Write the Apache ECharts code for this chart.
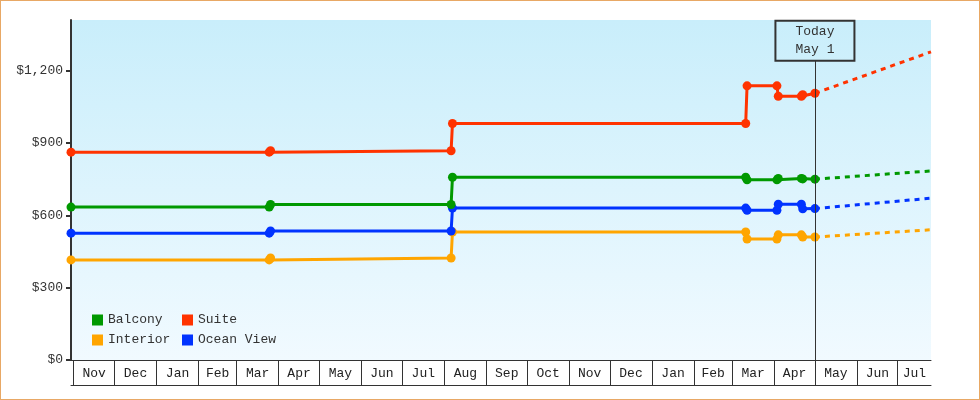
<!DOCTYPE html>
<html>
<head>
<meta charset="utf-8">
<script src="https://cdn.jsdelivr.net/npm/echarts@6/dist/echarts.min.js"></script>
<style>
  html, body { margin: 0; padding: 0; background: #fff; }
  #chart { position: absolute; left: 0; top: 0; width: 980px; height: 400px; }
  #frame { position: absolute; left: 0; top: 0; width: 980px; height: 400px; box-sizing: border-box; border: 1px solid #e8a865; pointer-events: none; }
</style>
</head>
<body>
<div id="chart"></div>
<div id="frame"></div>
<script>
// ---- data ----
const axisStart = '2024-10-30';
const axisEnd = '2026-07-25 12:00';
const monthStarts = ['2024-11-01','2024-12-01','2025-01-01','2025-02-01','2025-03-01','2025-04-01','2025-05-01','2025-06-01','2025-07-01','2025-08-01','2025-09-01','2025-10-01','2025-11-01','2025-12-01','2026-01-01','2026-02-01','2026-03-01','2026-04-01','2026-05-01','2026-06-01','2026-07-01'];
const monthLabels = ['Nov','Dec','Jan','Feb','Mar','Apr','May','Jun','Jul','Aug','Sep','Oct','Nov','Dec','Jan','Feb','Mar','Apr','May','Jun','Jul'];
const yTicks = [0, 300, 600, 900, 1200];

const priceDates = ['2024-10-30','2025-03-25','2025-03-26','2025-08-06','2025-08-07','2026-03-11','2026-03-12','2026-04-03','2026-04-04','2026-04-21','2026-04-22','2026-05-01'];
const balcony   = [634, 634, 645, 645, 758, 758, 747, 747, 753, 753, 751, 750];
const suite     = [862, 862, 868, 868, 981, 981, 1137, 1137, 1094, 1094, 1100, 1106];
const interior  = [415, 415, 423, 423, 531, 531, 502, 502, 519, 519, 510, 510];
const oceanView = [526, 526, 535, 535, 630, 630, 621, 621, 646, 646, 627, 628];

const forecastDates = ['2026-05-01', '2026-07-25 12:00'];
const balconyForecast   = [750, 784];
const suiteForecast     = [1106, 1278];
const interiorForecast  = [510, 540];
const oceanViewForecast = [628, 671];

const todayDate = '2026-05-01';
const todayText = ['Today', 'May 1'];
const todayBoxBase = 1241;

// ---- chart ----
const FONT = 'Liberation Mono';
const TXT = '#333';
const P = s => echarts.time.parse(s).getTime();
const pairs = (d, v) => d.map((x, i) => [P(x), v[i]]);

const tickTs = monthStarts.map(P);
const startTs = P(axisStart);
const endTs = P(axisEnd);
const labelTs = tickTs.map((t, i) => (t + (i + 1 < tickTs.length ? tickTs[i + 1] : endTs)) / 2);
const labelMap = {};
labelTs.forEach((t, i) => { labelMap[t] = monthLabels[i]; });

const colors = { Balcony: '#009900', Suite: '#ff3300', Interior: '#ffa500', 'Ocean View': '#0033ff' };

function solid(name, vals) {
  return {
    name, type: 'line', data: pairs(priceDates, vals),
    symbol: 'circle', symbolSize: 9, showSymbol: true,
    lineStyle: { width: 3, color: colors[name] }, itemStyle: { color: colors[name] },
    silent: true, z: 3
  };
}
function dashed(name, vals) {
  return {
    name: name + ' forecast', type: 'line', data: pairs(forecastDates, vals),
    symbol: 'none', lineStyle: { width: 3, type: [5, 5], color: colors[name] },
    itemStyle: { color: colors[name] }, silent: true, z: 2
  };
}

const suiteSeries = solid('Suite', suite);
suiteSeries.markLine = {
  silent: true, symbol: 'none', animation: false,
  lineStyle: { color: TXT, width: 1, type: 'solid' },
  label: {
    show: true, position: 'end', distance: 0,
    formatter: todayText.join('\n'),
    color: TXT, fontFamily: FONT, fontSize: 13, lineHeight: 18,
    borderColor: TXT, borderWidth: 1, padding: [2, 20, 2, 20], backgroundColor: 'transparent'
  },
  emphasis: { disabled: true },
  data: [[{ xAxis: P(todayDate), yAxis: 0 }, { xAxis: P(todayDate), yAxis: todayBoxBase }]]
};

const legendCommon = {
  orient: 'vertical', icon: 'rect', itemWidth: 11, itemHeight: 11, itemGap: 6, padding: 0,
  textStyle: { color: TXT, fontFamily: FONT, fontSize: 13, lineHeight: 14 },
  selectedMode: false
};

const chart = echarts.init(document.getElementById('chart'), null, { renderer: 'canvas' });
chart.setOption({
  animation: false,
  grid: {
    left: 71, right: 49, top: 20, bottom: 40, show: true, borderWidth: 0,
    backgroundColor: new echarts.graphic.LinearGradient(0, 0, 0, 1, [
      { offset: 0, color: '#c9eefb' }, { offset: 1, color: '#f1faff' }
    ])
  },
  legend: [
    Object.assign({}, legendCommon, { left: 92, top: 313, data: ['Balcony', 'Interior'] }),
    Object.assign({}, legendCommon, { left: 182, top: 313, data: ['Suite', 'Ocean View'] })
  ],
  xAxis: [{
    type: 'value', min: startTs, max: endTs, scale: true,
    axisLine: { show: true, onZero: false, lineStyle: { color: TXT, width: 1 } },
    axisTick: { show: true, length: 25, customValues: tickTs, lineStyle: { color: TXT, width: 1 } },
    axisLabel: {
      customValues: labelTs, margin: 7, color: '#222', fontFamily: FONT, fontSize: 13,
      formatter: v => labelMap[v] || ''
    },
    splitLine: { show: false }
  }, {
    type: 'value', position: 'bottom', offset: 25,
    axisLine: { show: true, onZero: false, lineStyle: { color: TXT, width: 1 } },
    axisTick: { show: false }, axisLabel: { show: false }, splitLine: { show: false }
  }],
  yAxis: {
    type: 'value', min: 0, max: 1410, interval: 300,
    axisLine: { show: true, onZero: false, lineStyle: { color: TXT, width: 2 } },
    axisTick: { show: true, length: 5, customValues: yTicks, lineStyle: { color: TXT, width: 2 } },
    axisLabel: {
      customValues: yTicks, margin: 8, color: TXT, fontFamily: FONT, fontSize: 13,
      formatter: v => '$' + v.toLocaleString('en-US')
    },
    splitLine: { show: false }
  },
  series: [
    dashed('Balcony', balconyForecast),
    dashed('Interior', interiorForecast),
    dashed('Ocean View', oceanViewForecast),
    dashed('Suite', suiteForecast),
    solid('Interior', interior),
    solid('Ocean View', oceanView),
    solid('Balcony', balcony),
    suiteSeries
  ]
});
</script>
</body>
</html>
